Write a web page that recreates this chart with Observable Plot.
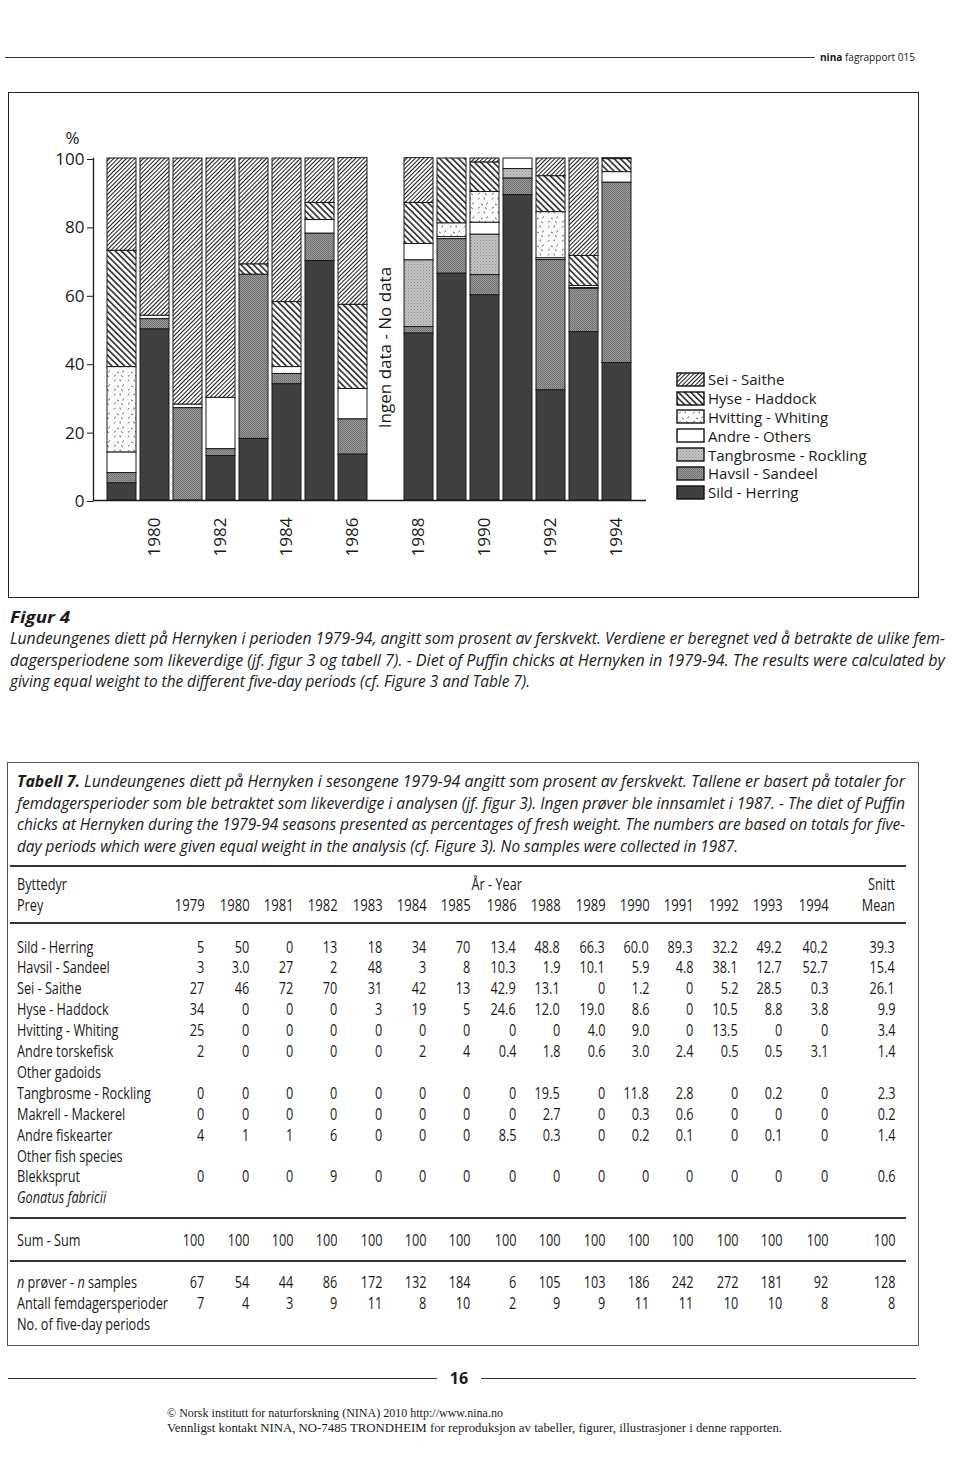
<!DOCTYPE html>
<html>
<head>
<meta charset="utf-8">
<script src="https://cdn.jsdelivr.net/npm/d3@7"></script>
<script src="https://cdn.jsdelivr.net/npm/@observablehq/plot@0.6"></script>
<style>
  html, body { margin: 0; padding: 0; background: #fff; }
  #page { position: relative; width: 960px; height: 1465px; background: #fff; overflow: hidden; color: #1a1a1a; }
  .abs { position: absolute; white-space: nowrap; }
  .cond { font-family: "Open Sans", "Noto Sans", sans-serif; }
  .sans { font-family: "Open Sans", "Noto Sans", sans-serif; }
  .serif { font-family: "Liberation Serif", "DejaVu Serif", serif; }
  .lg-swatches { font-family: "Open Sans", sans-serif !important; font-size: 15px !important; color: #1a1a1a; margin: 0 !important; }
  .lg-swatch { height: 18.8px; padding-bottom: 0 !important; margin: 0 !important; }
  .lg-swatch > svg { margin-right: 4px !important; }
  .lg-swatch rect { stroke: #111; stroke-width: 1.4px; }
</style>
</head>
<body>
<div id="page"></div>
<script>
// ---------------- DATA ----------------
const chartYears = ["1979","1980","1981","1982","1983","1984","1985","1986","1987","1988","1989","1990","1991","1992","1993","1994"];
const noDataYears = ["1987"];
const evenYears = ["1980","1982","1984","1986","1988","1990","1992","1994"];
const tableYears = ["1979","1980","1981","1982","1983","1984","1985","1986","1988","1989","1990","1991","1992","1993","1994"];

// table values (last entry = Snitt/Mean)
const sild      = ["5","50","0","13","18","34","70","13.4","48.8","66.3","60.0","89.3","32.2","49.2","40.2","39.3"];
const havsil    = ["3","3.0","27","2","48","3","8","10.3","1.9","10.1","5.9","4.8","38.1","12.7","52.7","15.4"];
const sei       = ["27","46","72","70","31","42","13","42.9","13.1","0","1.2","0","5.2","28.5","0.3","26.1"];
const hyse      = ["34","0","0","0","3","19","5","24.6","12.0","19.0","8.6","0","10.5","8.8","3.8","9.9"];
const hvitting  = ["25","0","0","0","0","0","0","0","0","4.0","9.0","0","13.5","0","0","3.4"];
const andreTorsk= ["2","0","0","0","0","2","4","0.4","1.8","0.6","3.0","2.4","0.5","0.5","3.1","1.4"];
const tangbrosme= ["0","0","0","0","0","0","0","0","19.5","0","11.8","2.8","0","0.2","0","2.3"];
const makrell   = ["0","0","0","0","0","0","0","0","2.7","0","0.3","0.6","0","0","0","0.2"];
const andreFisk = ["4","1","1","6","0","0","0","8.5","0.3","0","0.2","0.1","0","0.1","0","1.4"];
const blekksprut= ["0","0","0","9","0","0","0","0","0","0","0","0","0","0","0","0.6"];
const sumRow    = ["100","100","100","100","100","100","100","100","100","100","100","100","100","100","100","100"];
const nSamples  = ["67","54","44","86","172","132","184","6","105","103","186","242","272","181","92","128"];
const nPeriods  = ["7","4","3","9","11","8","10","2","9","9","11","11","10","10","8","8"];

// chart categories (legend order = top of stack first)
const chartCats = ["Sei - Saithe","Hyse - Haddock","Hvitting - Whiting","Andre - Others","Tangbrosme - Rockling","Havsil - Sandeel","Sild - Herring"];
const catFills  = ["url(#p-sei)","url(#p-hyse)","url(#p-hvit)","url(#p-andre)","url(#p-tang)","url(#p-havsil)","url(#p-sild)"];
const stackOrder = chartCats.slice().reverse();

// ---------------- build chart rows ----------------
const rows = [];
tableYears.forEach((yr, i) => {
  const andre = +andreTorsk[i] + +makrell[i] + +andreFisk[i] + +blekksprut[i];
  const vals = {
    "Sild - Herring": +sild[i], "Havsil - Sandeel": +havsil[i], "Tangbrosme - Rockling": +tangbrosme[i],
    "Andre - Others": andre, "Hvitting - Whiting": +hvitting[i], "Hyse - Haddock": +hyse[i], "Sei - Saithe": +sei[i]
  };
  for (const c of chartCats) rows.push({year: yr, cat: c, value: vals[c]});
});

const page = document.getElementById("page");

// pattern defs
const defs = document.createElementNS("http://www.w3.org/2000/svg", "svg");
defs.setAttribute("width", "0"); defs.setAttribute("height", "0");
defs.style.position = "absolute";
defs.innerHTML = `
<defs>
 <pattern id="p-sei" patternUnits="userSpaceOnUse" width="3" height="3" patternTransform="rotate(45)">
   <rect width="3" height="3" fill="#fff"/><line x1="0.5" y1="-1" x2="0.5" y2="5" stroke="#1a1a1a" stroke-width="1"/>
 </pattern>
 <pattern id="p-hyse" patternUnits="userSpaceOnUse" width="4.4" height="4.4" patternTransform="rotate(-45)">
   <rect width="4.4" height="4.4" fill="#fff"/><line x1="0.8" y1="-1" x2="0.8" y2="6" stroke="#1a1a1a" stroke-width="1.5"/>
 </pattern>
 <pattern id="p-hvit" patternUnits="userSpaceOnUse" width="14" height="14">
   <rect width="14" height="14" fill="#fbfbfb"/>
   <path d="M2 3.5 l1.4 -1.6 M8 1.5 l0.3 2 M5 8 l1.8 0.9 M11.5 6.5 l-0.8 1.9 M2.5 12.5 l0.9 -1.8 M9 11.5 l1.8 1.1" stroke="#333" stroke-width="0.8" fill="none"/>
 </pattern>
 <pattern id="p-andre" patternUnits="userSpaceOnUse" width="4" height="4">
   <rect width="4" height="4" fill="#fff"/>
 </pattern>
 <pattern id="p-tang" patternUnits="userSpaceOnUse" width="3" height="3">
   <rect width="3" height="3" fill="#c3c3c3"/><rect x="0" y="0" width="1" height="1" fill="#8e8e8e"/><rect x="1.5" y="1.5" width="1" height="1" fill="#9c9c9c"/>
 </pattern>
 <pattern id="p-havsil" patternUnits="userSpaceOnUse" width="2" height="2">
   <rect width="2" height="2" fill="#9a9a9a"/><rect x="0" y="0" width="1" height="1" fill="#6a6a6a"/><rect x="1" y="1" width="1" height="1" fill="#777"/>
 </pattern>
 <pattern id="p-sild" patternUnits="userSpaceOnUse" width="4" height="4">
   <rect width="4" height="4" fill="#404040"/>
 </pattern>
</defs>`;
page.appendChild(defs);

// ---------------- helpers ----------------
function box(x, y, w, h, css) {
  const d = document.createElement("div");
  d.className = "abs";
  Object.assign(d.style, {left: x + "px", top: y + "px", width: w + "px", height: h + "px"}, css || {});
  page.appendChild(d);
  return d;
}
let COND = 1;
function txt(html, x, y, opts = {}) {
  const size = opts.size || 16, H = opts.lh || 22;
  const d = document.createElement("div");
  d.className = "abs " + (opts.cls || "cond");
  d.innerHTML = html;
  d.style.top = (y - H / 2) + "px";
  d.style.height = H + "px";
  d.style.lineHeight = H + "px";
  d.style.fontSize = size + "px";
  if (opts.weight) d.style.fontWeight = opts.weight;
  if (opts.italic) d.style.fontStyle = "italic";
  const a = opts.anchor || "start";
  page.appendChild(d);
  const w = d.getBoundingClientRect().width;
  let s = 1;
  if (opts.fit) s = opts.fit / w;
  else if (opts.scale) s = opts.scale;
  else if (!opts.cls || opts.cls === "cond") s = COND;
  if (a === "start") { d.style.left = x + "px"; d.style.transformOrigin = "left center"; d.style.transform = `scaleX(${s})`; }
  else if (a === "end") { d.style.left = (x - w) + "px"; d.style.transformOrigin = "right center"; d.style.transform = `scaleX(${s})`; }
  else { d.style.left = (x - w / 2) + "px"; d.style.transformOrigin = "center center"; d.style.transform = `scaleX(${s})`; }
  return d;
}
// calibrate condensed factor from two reference label widths
{
  const p1 = txt("Tangbrosme - Rockling", 0, -100, {scale: 1});
  const p2 = txt("Antall femdagersperioder", 0, -100, {scale: 1});
  const w1 = p1.getBoundingClientRect().width, w2 = p2.getBoundingClientRect().width;
  COND = (135 + 150) / (w1 + w2);
  p1.remove(); p2.remove();
}

// ---------------- header ----------------
box(5, 57, 810, 1, {background: "#333"});
txt("<b>nina</b> fagrapport 015", 820, 57, {size: 11, cls: "sans", lh: 14, fit: 95});

// chart frame
box(8, 92, 909, 504, {border: "1.5px solid #222"});

// ---------------- chart ----------------
const chart = Plot.plot({
  width: 960,
  height: 600,
  marginLeft: 93,
  marginRight: 314,
  marginTop: 158,
  marginBottom: 100,
  style: {background: "transparent", fontFamily: "'Open Sans', 'Noto Sans', sans-serif", fontSize: "17px", color: "#1a1a1a", overflow: "visible"},
  x: {type: "band", domain: chartYears, paddingInner: 0.114, paddingOuter: 0.33, label: null},
  y: {domain: [0, 100], label: null},
  color: {type: "ordinal", domain: chartCats, range: catFills},
  marks: [
    Plot.barY(rows, {x: "year", y: "value", fill: "cat", order: stackOrder, stroke: "#1a1a1a", strokeWidth: 1}),
    Plot.axisY({ticks: [0, 20, 40, 60, 80, 100], tickSize: 6, tickPadding: 3, label: null, fontSize: 17, stroke: "#1a1a1a", dy: 1}),
    Plot.axisX({ticks: evenYears, tickRotate: -90, tickSize: 0, tickPadding: 17, label: null, fontSize: 17}),
    Plot.frame({anchor: "left", stroke: "#1a1a1a", strokeWidth: 1.3}),
    Plot.ruleY([0], {stroke: "#1a1a1a", strokeWidth: 1.3}),
    Plot.text(["%"], {frameAnchor: "top-left", dx: -28, dy: -27, fontSize: 17}),
    Plot.text(noDataYears, {x: d => d, text: () => "Ingen data - No data", frameAnchor: "middle", dy: 18, rotate: -90, fontSize: 17})
  ]
});
chart.style.position = "absolute";
chart.style.left = "0px";
chart.style.top = "0px";
page.appendChild(chart);

// legend
const legend = Plot.legend({
  color: {type: "ordinal", domain: chartCats, range: catFills},
  legend: "swatches",
  columns: 1,
  swatchWidth: 27,
  swatchHeight: 13,
  className: "lg"
});
legend.style.position = "absolute";
legend.style.left = "677px";
legend.style.top = "370px";
legend.style.width = "220px";
page.appendChild(legend);

// ---------------- Figur caption ----------------
txt("Figur 4", 10, 617, {size: 16.5, weight: "bold", italic: true, fit: 60});
const figLines = [
  "Lundeungenes diett på Hernyken i perioden 1979-94, angitt som prosent av ferskvekt. Verdiene er beregnet ved å betrakte de ulike fem-",
  "dagersperiodene som likeverdige (jf. figur 3 og tabell 7). - Diet of Puffin chicks at Hernyken in 1979-94. The results were calculated by",
  "giving equal weight to the different five-day periods (cf. Figure 3 and Table 7)."
];
const figFit = [935, 935, 520];
figLines.forEach((l, i) => txt(l, 10, 638 + i * 21.5, {size: 16, italic: true, fit: figFit[i]}));

// ---------------- Tabell box + caption ----------------
box(7, 762, 910, 582, {border: "1px solid #555"});
const tabLines = [
  "<b>Tabell 7.</b> Lundeungenes diett på Hernyken i sesongene 1979-94 angitt som prosent av ferskvekt. Tallene er basert på totaler for",
  "femdagersperioder som ble betraktet som likeverdige i analysen (jf. figur 3). Ingen prøver ble innsamlet i 1987. - The diet of Puffin",
  "chicks at Hernyken during the 1979-94 seasons presented as percentages of fresh weight. The numbers are based on totals for five-",
  "day periods which were given equal weight in the analysis (cf. Figure 3). No samples were collected in 1987."
];
const tabFit = [888, 888, 888, 721];
tabLines.forEach((l, i) => txt(l, 17, 781 + i * 21.7, {size: 16, italic: true, fit: tabFit[i]}));

// ---------------- table ----------------
const colRight = [204, 249, 293, 337, 382, 426, 470, 516, 560, 605, 649, 693, 738, 782, 828, 895];
const labelX = 17;
const rule = y => box(10, y - 1, 896, 2, {background: "#333"});
rule(866);
txt("Byttedyr", labelX, 884);
txt("År - Year", 497, 884, {anchor: "middle"});
txt("Snitt", 895, 884, {anchor: "end"});
txt("Prey", labelX, 905);
tableYears.forEach((y, i) => txt(y, colRight[i] + 1, 905, {anchor: "end", size: 16.5}));
txt("Mean", 895, 905, {anchor: "end"});
rule(923);

const bodyRows = [
  ["Sild - Herring", sild], ["Havsil - Sandeel", havsil], ["Sei - Saithe", sei], ["Hyse - Haddock", hyse],
  ["Hvitting - Whiting", hvitting], ["Andre torskefisk", andreTorsk], ["Other gadoids", null],
  ["Tangbrosme - Rockling", tangbrosme], ["Makrell - Mackerel", makrell], ["Andre fiskearter", andreFisk],
  ["Other fish species", null], ["Blekksprut", blekksprut], ["<i>Gonatus fabricii</i>", null]
];
bodyRows.forEach(([label, vals], r) => {
  const y = 946.5 + r * 20.9;
  txt(label, labelX, y);
  if (vals) vals.forEach((v, i) => txt(v, colRight[i], y, {anchor: "end"}));
});
rule(1218);
txt("Sum - Sum", labelX, 1240);
sumRow.forEach((v, i) => txt(v, colRight[i], 1240, {anchor: "end"}));
rule(1261);
const footRows = [
  ["<i>n</i> prøver - <i>n</i> samples", nSamples],
  ["Antall femdagersperioder", nPeriods],
  ["No. of five-day periods", null]
];
footRows.forEach(([label, vals], r) => {
  const y = 1282 + r * 21;
  txt(label, labelX, y);
  if (vals) vals.forEach((v, i) => txt(v, colRight[i], y, {anchor: "end"}));
});

// ---------------- footer ----------------
box(8, 1378, 429, 1, {background: "#333"});
box(481, 1378, 435, 1, {background: "#333"});
txt("16", 459, 1378, {anchor: "middle", size: 16, weight: "bold", cls: "sans"});
txt("© Norsk institutt for naturforskning (NINA) 2010 http://www.nina.no", 167, 1413, {cls: "serif", size: 12.5, lh: 15, fit: 336});
txt("Vennligst kontakt NINA, NO-7485 TRONDHEIM for reproduksjon av tabeller, figurer, illustrasjoner i denne rapporten.", 167, 1428, {cls: "serif", size: 12.5, lh: 15, fit: 615});
</script>
</body>
</html>
